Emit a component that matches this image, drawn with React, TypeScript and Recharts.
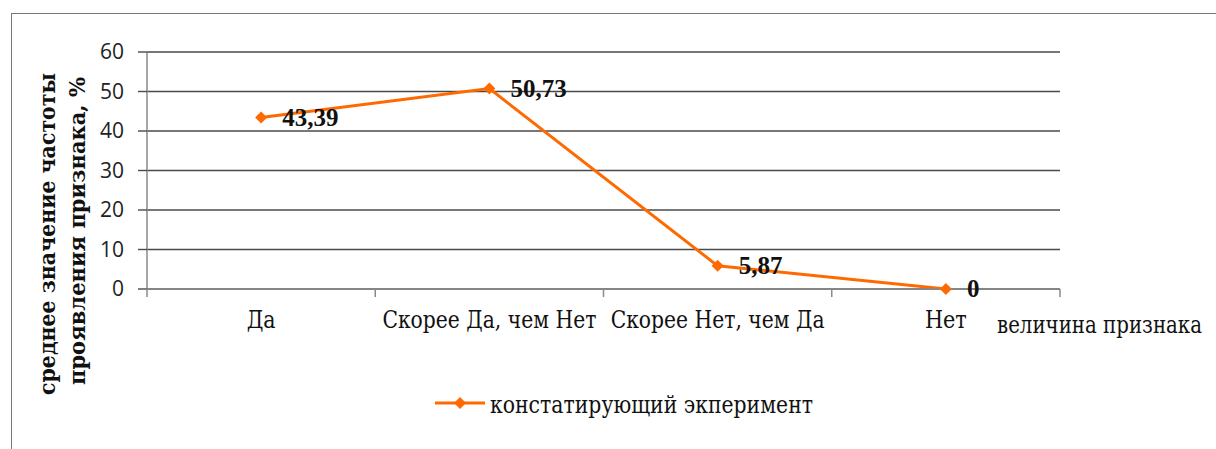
import { LineChart, Line, XAxis, YAxis, CartesianGrid, LabelList, Legend } from 'recharts';

const categories = ['Да', 'Скорее Да, чем Нет', 'Скорее Нет, чем Да', 'Нет'];
const values = [43.39, 50.73, 5.87, 0];
const valueLabels = ['43,39', '50,73', '5,87', '0'];
const yTicks = [0, 10, 20, 30, 40, 50, 60];
const seriesName = 'констатирующий экперимент';
const yTitle = ['среднее значение частоты', 'проявления признака, %'];
const xTitle = 'величина признака';

const ORANGE = '#ff6a00';
// Liberation Serif has no Cyrillic here, so Cyrillic text uses DejaVu Serif squeezed to Times widths
const CYR_SERIF = "'DejaVu Serif', serif";
const SERIF = "'Liberation Serif', 'Times New Roman', serif";
const SANS = "'Open Sans', 'Liberation Sans', sans-serif";
const SQUEEZE = 0.84;

// text widths measured on the original (Times New Roman)
const textWidths: Record<string, number> = {
  'Да': 29,
  'Скорее Да, чем Нет': 214,
  'Скорее Нет, чем Да': 214,
  'Нет': 42,
  'величина признака': 205,
  'констатирующий экперимент': 323,
  'среднее значение частоты': 322,
  'проявления признака, %': 308,
};

// category i sits in the middle of its slot, slot edges carry the tick marks
const data = categories.map((name, i) => ({ name, pos: i + 0.5, value: values[i], label: valueLabels[i] }));
const xTicks = Array.from({ length: categories.length * 2 + 1 }, (_, i) => i / 2);

const MARK = 6;

const Diamond = ({ cx, cy }: any) => {
  if (cx == null || cy == null) return null;
  return (
    <polygon
      points={`${cx},${cy - MARK} ${cx + MARK},${cy} ${cx},${cy + MARK} ${cx - MARK},${cy}`}
      fill={ORANGE}
    />
  );
};

const CyrText = ({ children, x, y, rotate = 0, size = 24, bold = false, anchor = 'start' }: any) => (
  <text
    transform={`translate(${x},${y}) rotate(${rotate}) scale(${SQUEEZE},1)`}
    fill="#111"
    style={{ fontFamily: CYR_SERIF }}
    fontSize={size}
    fontWeight={bold ? 'bold' : 'normal'}
    textAnchor={anchor}
    textLength={textWidths[children] / SQUEEZE}
    lengthAdjust="spacingAndGlyphs"
  >
    {children}
  </text>
);

const XTick = ({ x, y, payload }: any) => {
  const v = payload.value;
  if (Number.isInteger(v)) {
    return <line x1={x} x2={x} y1={y} y2={y + 8} stroke="#8a8a8a" strokeWidth={1.5} />;
  }
  return (
    <CyrText x={x} y={y + 39} anchor="middle">
      {categories[Math.floor(v)]}
    </CyrText>
  );
};

const YTick = ({ x, y, payload }: any) => (
  <text x={x} y={y + 7} textAnchor="end" fill="#222" style={{ fontFamily: SANS }} fontSize={21}>
    {payload.value}
  </text>
);

const ValueLabel = ({ x, y, value }: any) => (
  <text x={x + 21} y={y + 8} fill="#111" style={{ fontFamily: SERIF }} fontSize={25} fontWeight="bold">
    {value}
  </text>
);

const YTitle = () => (
  <g>
    <CyrText x={55} y={234} rotate={-90} size={22} bold anchor="middle">
      {yTitle[0]}
    </CyrText>
    <CyrText x={85} y={231} rotate={-90} size={22} bold anchor="middle">
      {yTitle[1]}
    </CyrText>
  </g>
);

const XTitle = ({ viewBox }: any) => (
  <CyrText x={viewBox.x + viewBox.width - 63} y={viewBox.y + 44}>
    {xTitle}
  </CyrText>
);

const LegendBox = () => (
  <svg width={560} height={30} style={{ display: 'block' }}>
    <line x1={5} x2={55} y1={13} y2={13} stroke={ORANGE} strokeWidth={3} />
    <Diamond cx={30} cy={13} />
    <CyrText x={60} y={23}>
      {seriesName}
    </CyrText>
  </svg>
);

export default function App() {
  return (
    <div style={{ position: 'absolute', left: 0, top: 0, width: 1216, height: 449, background: '#fff' }}>
      <div
        style={{
          position: 'absolute',
          left: 11,
          top: 13,
          width: 1205,
          height: 436,
          borderLeft: '1.5px solid #777',
          borderTop: '1.5px solid #777',
        }}
      />
      <LineChart width={1216} height={449} data={data} margin={{ top: 52, right: 156, bottom: 120, left: 0 }}>
        <CartesianGrid horizontal vertical={false} stroke="#4a4a4a" strokeWidth={1.4} />
        <XAxis
          dataKey="pos"
          type="number"
          domain={[0, categories.length]}
          ticks={xTicks}
          interval={0}
          height={40}
          tickSize={0}
          tickMargin={0}
          tickLine={false}
          tick={<XTick />}
          axisLine={{ stroke: '#8a8a8a', strokeWidth: 1.5 }}
          label={{ content: <XTitle /> }}
        />
        <YAxis
          width={147}
          domain={[0, 60]}
          ticks={yTicks}
          interval={0}
          tickSize={9}
          tickMargin={14}
          tickLine={{ stroke: '#4a4a4a', strokeWidth: 1.4 }}
          axisLine={{ stroke: '#8a8a8a', strokeWidth: 1.5 }}
          tick={<YTick />}
          label={{ content: <YTitle /> }}
        />
        <Line
          dataKey="value"
          name={seriesName}
          stroke={ORANGE}
          strokeWidth={3}
          dot={<Diamond />}
          activeDot={false}
          isAnimationActive={false}
        >
          <LabelList dataKey="label" content={<ValueLabel />} />
        </Line>
        <Legend
          verticalAlign="middle"
          align="center"
          content={<LegendBox />}
          wrapperStyle={{ left: 430, top: 390, width: 560, height: 30 }}
        />
      </LineChart>
    </div>
  );
}
